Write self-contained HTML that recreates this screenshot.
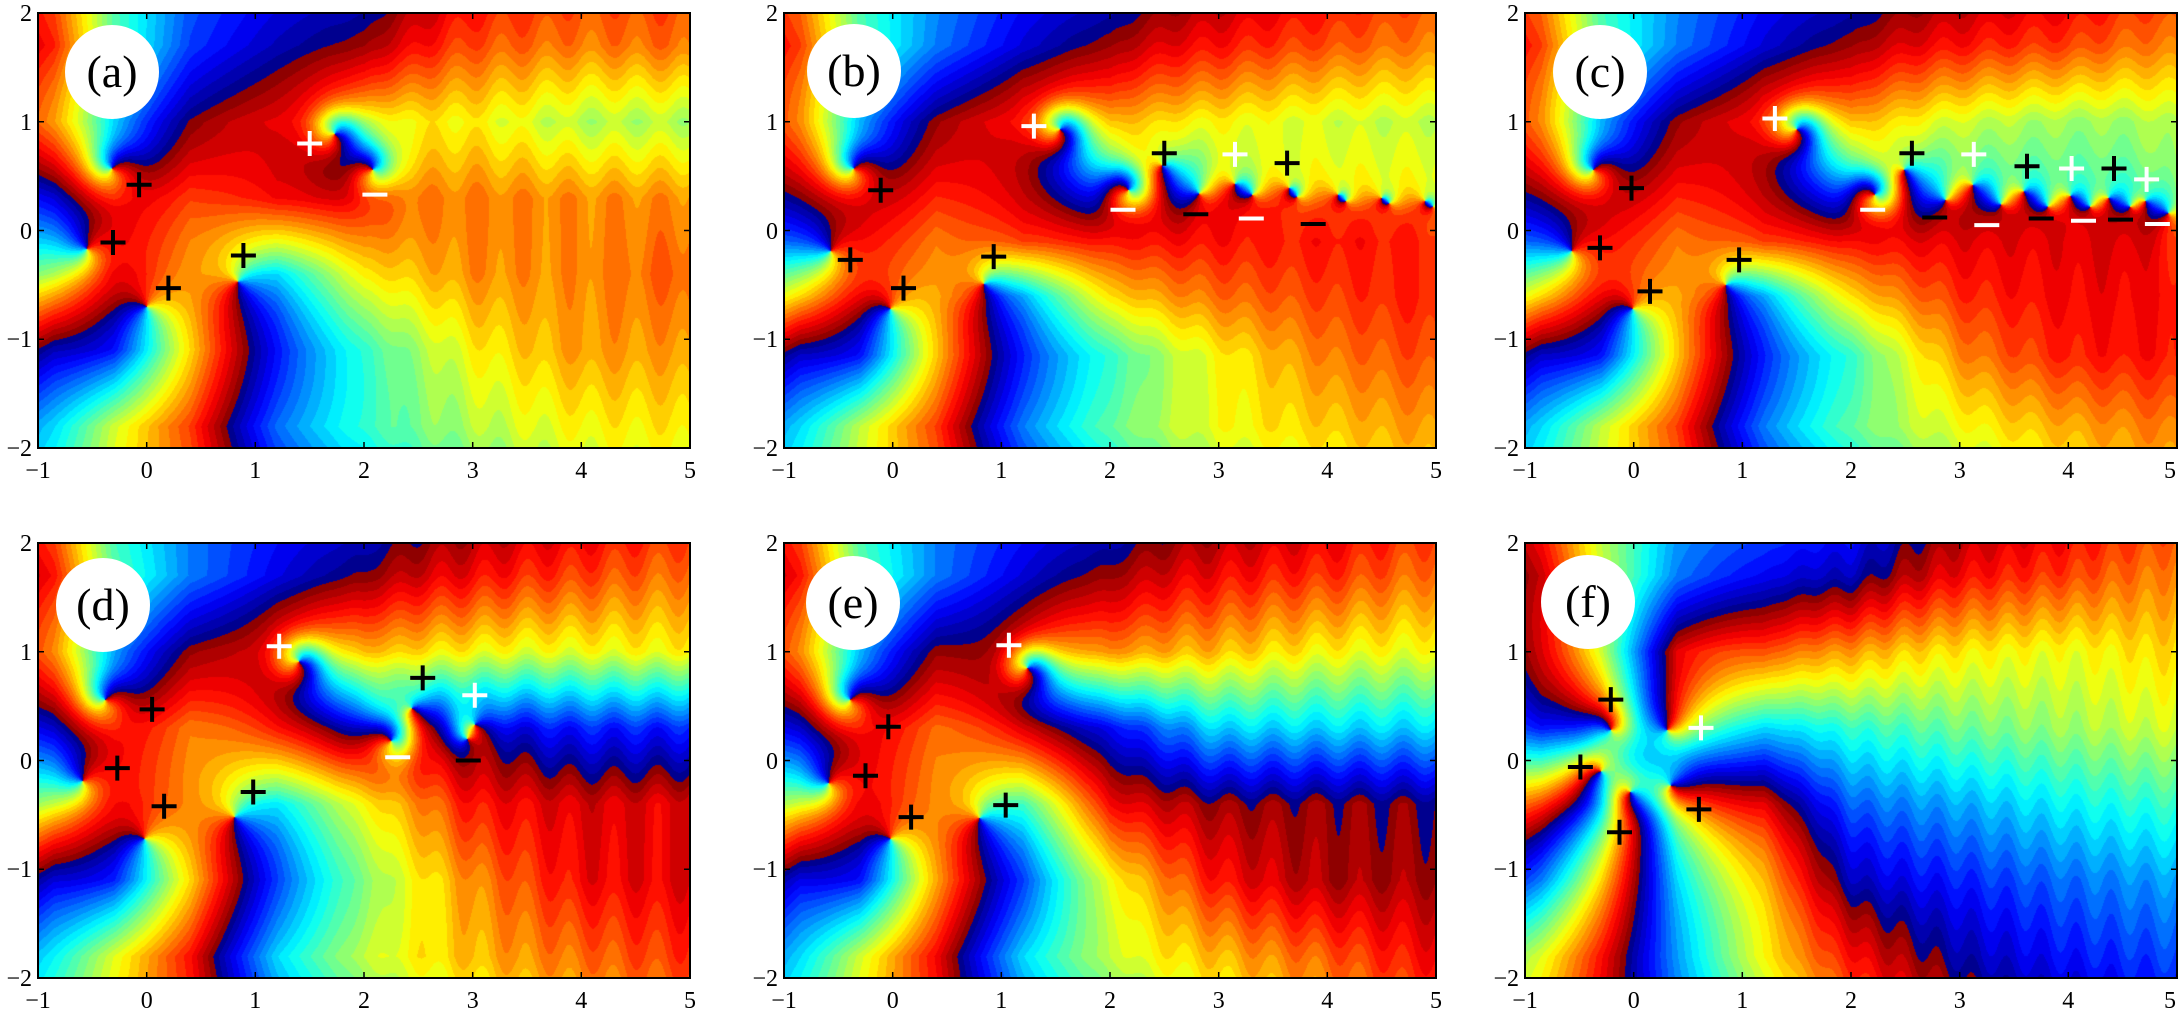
<!DOCTYPE html>
<html><head><meta charset="utf-8">
<style>
html,body{margin:0;padding:0;background:#fff;}
body{width:2183px;height:1019px;position:relative;overflow:hidden;font-family:"Liberation Serif",serif;}
canvas{position:absolute;}
svg.p{position:absolute;overflow:visible;width:652px;height:435px;}
svg text{font-family:"Liberation Serif",serif;font-size:24px;fill:#000;}
svg text.lab{font-size:46px;}
</style></head><body>
<canvas id="c0" width="652" height="435" style="left:38px;top:13px"></canvas>
<canvas id="c1" width="652" height="435" style="left:784px;top:13px"></canvas>
<canvas id="c2" width="652" height="435" style="left:1525px;top:13px"></canvas>
<canvas id="c3" width="652" height="435" style="left:38px;top:543px"></canvas>
<canvas id="c4" width="652" height="435" style="left:784px;top:543px"></canvas>
<canvas id="c5" width="652" height="435" style="left:1525px;top:543px"></canvas>

<svg class="p" style="left:38px;top:13px" viewBox="0 0 652 435">
<rect x="0" y="0" width="652" height="435" fill="none" stroke="#000" stroke-width="2"/>
<path d="M108.7,435v-6M217.3,435v-6M326,435v-6M434.7,435v-6M543.3,435v-6M108.7,0v6M217.3,0v6M326,0v6M434.7,0v6M543.3,0v6M0,108.75h6M0,217.5h6M0,326.25h6M652,108.75h-6M652,217.5h-6M652,326.25h-6" stroke="#000" stroke-width="1.5"/>
<g text-anchor="end"><text x="-6" y="8">2</text><text x="-6" y="117">1</text><text x="-6" y="226">0</text><text x="-6" y="334">−1</text><text x="-6" y="443">−2</text></g>
<g text-anchor="middle"><text x="0" y="465">−1</text><text x="108.7" y="465">0</text><text x="217.3" y="465">1</text><text x="326" y="465">2</text><text x="434.7" y="465">3</text><text x="543.3" y="465">4</text><text x="652" y="465">5</text></g>
<ellipse cx="74" cy="59" rx="47" ry="47" fill="#fff"/><text class="lab" x="74" y="74" text-anchor="middle">(a)</text>
<g stroke="#000" stroke-width="4"><path d="M101.1,171.8m-12.5,0h25m-12.5,-12.5v25"/><path d="M75,229.5m-12.5,0h25m-12.5,-12.5v25"/><path d="M130.4,275.1m-12.5,0h25m-12.5,-12.5v25"/><path d="M205.4,242.5m-12.5,0h25m-12.5,-12.5v25"/></g>
<g stroke="#fff" stroke-width="4"><path d="M271.7,130.5m-12.5,0h25m-12.5,-12.5v25"/><path d="M324.4,181.6h25"/></g>
</svg>

<svg class="p" style="left:784px;top:13px" viewBox="0 0 652 435">
<rect x="0" y="0" width="652" height="435" fill="none" stroke="#000" stroke-width="2"/>
<path d="M108.7,435v-6M217.3,435v-6M326,435v-6M434.7,435v-6M543.3,435v-6M108.7,0v6M217.3,0v6M326,0v6M434.7,0v6M543.3,0v6M0,108.75h6M0,217.5h6M0,326.25h6M652,108.75h-6M652,217.5h-6M652,326.25h-6" stroke="#000" stroke-width="1.5"/>
<g text-anchor="end"><text x="-6" y="8">2</text><text x="-6" y="117">1</text><text x="-6" y="226">0</text><text x="-6" y="334">−1</text><text x="-6" y="443">−2</text></g>
<g text-anchor="middle"><text x="0" y="465">−1</text><text x="108.7" y="465">0</text><text x="217.3" y="465">1</text><text x="326" y="465">2</text><text x="434.7" y="465">3</text><text x="543.3" y="465">4</text><text x="652" y="465">5</text></g>
<ellipse cx="70" cy="58" rx="47" ry="47" fill="#fff"/><text class="lab" x="70" y="73" text-anchor="middle">(b)</text>
<g stroke="#000" stroke-width="4"><path d="M96.7,177.3m-12.5,0h25m-12.5,-12.5v25"/><path d="M66.3,246.9m-12.5,0h25m-12.5,-12.5v25"/><path d="M119.5,275.1m-12.5,0h25m-12.5,-12.5v25"/><path d="M209.7,243.6m-12.5,0h25m-12.5,-12.5v25"/><path d="M380.3,140.3m-12.5,0h25m-12.5,-12.5v25"/><path d="M503.1,150.1m-12.5,0h25m-12.5,-12.5v25"/><path d="M399.3,201.2h25"/><path d="M516.7,211h25"/></g>
<g stroke="#fff" stroke-width="4"><path d="M249.9,113.1m-12.5,0h25m-12.5,-12.5v25"/><path d="M451,141.4m-12.5,0h25m-12.5,-12.5v25"/><path d="M326.5,196.8h25"/><path d="M454.8,205.5h25"/></g>
</svg>

<svg class="p" style="left:1525px;top:13px" viewBox="0 0 652 435">
<rect x="0" y="0" width="652" height="435" fill="none" stroke="#000" stroke-width="2"/>
<path d="M108.7,435v-6M217.3,435v-6M326,435v-6M434.7,435v-6M543.3,435v-6M108.7,0v6M217.3,0v6M326,0v6M434.7,0v6M543.3,0v6M0,108.75h6M0,217.5h6M0,326.25h6M652,108.75h-6M652,217.5h-6M652,326.25h-6" stroke="#000" stroke-width="1.5"/>
<g text-anchor="end"><text x="-6" y="8">2</text><text x="-6" y="117">1</text><text x="-6" y="226">0</text><text x="-6" y="334">−1</text><text x="-6" y="443">−2</text></g>
<g text-anchor="middle"><text x="0" y="465">−1</text><text x="108.7" y="465">0</text><text x="217.3" y="465">1</text><text x="326" y="465">2</text><text x="434.7" y="465">3</text><text x="543.3" y="465">4</text><text x="645" y="465">5</text></g>
<ellipse cx="75" cy="59" rx="47" ry="47" fill="#fff"/><text class="lab" x="75" y="74" text-anchor="middle">(c)</text>
<g stroke="#000" stroke-width="4"><path d="M106.5,175.1m-12.5,0h25m-12.5,-12.5v25"/><path d="M75,234.9m-12.5,0h25m-12.5,-12.5v25"/><path d="M125,278.4m-12.5,0h25m-12.5,-12.5v25"/><path d="M214.1,246.9m-12.5,0h25m-12.5,-12.5v25"/><path d="M386.9,140.3m-12.5,0h25m-12.5,-12.5v25"/><path d="M502,153.3m-12.5,0h25m-12.5,-12.5v25"/><path d="M589,155.5m-12.5,0h25m-12.5,-12.5v25"/><path d="M397.2,204.5h25"/><path d="M503.7,205.5h25"/><path d="M583,206.6h25"/></g>
<g stroke="#fff" stroke-width="4"><path d="M249.9,105.5m-12.5,0h25m-12.5,-12.5v25"/><path d="M448.8,141.4m-12.5,0h25m-12.5,-12.5v25"/><path d="M546.6,155.5m-12.5,0h25m-12.5,-12.5v25"/><path d="M621.6,166.4m-12.5,0h25m-12.5,-12.5v25"/><path d="M335.2,196.8h25"/><path d="M449.3,212.1h25"/><path d="M546,207.7h25"/><path d="M619.9,211h25"/></g>
</svg>

<svg class="p" style="left:38px;top:543px" viewBox="0 0 652 435">
<rect x="0" y="0" width="652" height="435" fill="none" stroke="#000" stroke-width="2"/>
<path d="M108.7,435v-6M217.3,435v-6M326,435v-6M434.7,435v-6M543.3,435v-6M108.7,0v6M217.3,0v6M326,0v6M434.7,0v6M543.3,0v6M0,108.75h6M0,217.5h6M0,326.25h6M652,108.75h-6M652,217.5h-6M652,326.25h-6" stroke="#000" stroke-width="1.5"/>
<g text-anchor="end"><text x="-6" y="8">2</text><text x="-6" y="117">1</text><text x="-6" y="226">0</text><text x="-6" y="334">−1</text><text x="-6" y="443">−2</text></g>
<g text-anchor="middle"><text x="0" y="465">−1</text><text x="108.7" y="465">0</text><text x="217.3" y="465">1</text><text x="326" y="465">2</text><text x="434.7" y="465">3</text><text x="543.3" y="465">4</text><text x="652" y="465">5</text></g>
<ellipse cx="65" cy="62" rx="47" ry="47" fill="#fff"/><text class="lab" x="65" y="77" text-anchor="middle">(d)</text>
<g stroke="#000" stroke-width="4"><path d="M114.1,166.4m-12.5,0h25m-12.5,-12.5v25"/><path d="M79.3,225.1m-12.5,0h25m-12.5,-12.5v25"/><path d="M126.1,263.2m-12.5,0h25m-12.5,-12.5v25"/><path d="M215.2,249m-12.5,0h25m-12.5,-12.5v25"/><path d="M384.7,134.9m-12.5,0h25m-12.5,-12.5v25"/><path d="M417.8,217.5h25"/></g>
<g stroke="#fff" stroke-width="4"><path d="M241.2,103.3m-12.5,0h25m-12.5,-12.5v25"/><path d="M436.8,152.3m-12.5,0h25m-12.5,-12.5v25"/><path d="M347.2,214.2h25"/></g>
</svg>

<svg class="p" style="left:784px;top:543px" viewBox="0 0 652 435">
<rect x="0" y="0" width="652" height="435" fill="none" stroke="#000" stroke-width="2"/>
<path d="M108.7,435v-6M217.3,435v-6M326,435v-6M434.7,435v-6M543.3,435v-6M108.7,0v6M217.3,0v6M326,0v6M434.7,0v6M543.3,0v6M0,108.75h6M0,217.5h6M0,326.25h6M652,108.75h-6M652,217.5h-6M652,326.25h-6" stroke="#000" stroke-width="1.5"/>
<g text-anchor="end"><text x="-6" y="8">2</text><text x="-6" y="117">1</text><text x="-6" y="226">0</text><text x="-6" y="334">−1</text><text x="-6" y="443">−2</text></g>
<g text-anchor="middle"><text x="0" y="465">−1</text><text x="108.7" y="465">0</text><text x="217.3" y="465">1</text><text x="326" y="465">2</text><text x="434.7" y="465">3</text><text x="543.3" y="465">4</text><text x="652" y="465">5</text></g>
<ellipse cx="69" cy="60" rx="47" ry="47" fill="#fff"/><text class="lab" x="69" y="75" text-anchor="middle">(e)</text>
<g stroke="#000" stroke-width="4"><path d="M104.3,183.8m-12.5,0h25m-12.5,-12.5v25"/><path d="M81.5,232.7m-12.5,0h25m-12.5,-12.5v25"/><path d="M127.1,274.1m-12.5,0h25m-12.5,-12.5v25"/><path d="M221.7,262.1m-12.5,0h25m-12.5,-12.5v25"/></g>
<g stroke="#fff" stroke-width="4"><path d="M224.9,102.2m-12.5,0h25m-12.5,-12.5v25"/></g>
</svg>

<svg class="p" style="left:1525px;top:543px" viewBox="0 0 652 435">
<rect x="0" y="0" width="652" height="435" fill="none" stroke="#000" stroke-width="2"/>
<path d="M108.7,435v-6M217.3,435v-6M326,435v-6M434.7,435v-6M543.3,435v-6M108.7,0v6M217.3,0v6M326,0v6M434.7,0v6M543.3,0v6M0,108.75h6M0,217.5h6M0,326.25h6M652,108.75h-6M652,217.5h-6M652,326.25h-6" stroke="#000" stroke-width="1.5"/>
<g text-anchor="end"><text x="-6" y="8">2</text><text x="-6" y="117">1</text><text x="-6" y="226">0</text><text x="-6" y="334">−1</text><text x="-6" y="443">−2</text></g>
<g text-anchor="middle"><text x="0" y="465">−1</text><text x="108.7" y="465">0</text><text x="217.3" y="465">1</text><text x="326" y="465">2</text><text x="434.7" y="465">3</text><text x="543.3" y="465">4</text><text x="645" y="465">5</text></g>
<ellipse cx="63" cy="59" rx="47" ry="47" fill="#fff"/><text class="lab" x="63" y="74" text-anchor="middle">(f)</text>
<g stroke="#000" stroke-width="4"><path d="M85.8,156.6m-12.5,0h25m-12.5,-12.5v25"/><path d="M55.4,224m-12.5,0h25m-12.5,-12.5v25"/><path d="M94.5,289.3m-12.5,0h25m-12.5,-12.5v25"/><path d="M173.9,266.4m-12.5,0h25m-12.5,-12.5v25"/></g>
<g stroke="#fff" stroke-width="4"><path d="M176,184.9m-12.5,0h25m-12.5,-12.5v25"/></g>
</svg>

<script>
(function(){
var PI=Math.PI,TP=2*PI;
function sm(a,b,x){var t=(x-a)/(b-a);t=t<0?0:t>1?1:t;return t*t*(3-2*t);}
function wrap(a){a=(a+PI)%TP;if(a<0)a+=TP;return a-PI;}
function cl(v){return v<0?0:v>1?1:v;}
var W=652,H=435,N=32,n=null;
var XS=[-0.85,-0.3,0.4,1.2,2,3,4,4.8],YS=[1.7,1.0,0.3,-0.4,-1.1,-1.8],YS2=[1.7,1.0,-0.1,-0.6,-1.15,-1.8];
var cfgs=[
 {v:[[-0.32,0.57,1,35],[-0.55,-0.17,1,80],[0.0,-0.70,1,150],[0.84,-0.47,1,-95],[1.73,0.89,1,-45],[2.08,0.56,-1,135]],
  g:[[2.2,n,-2.0,-2.8,3.0,1.9,1.6,1.7],
     [1.4,-1.0,3.1,2.5,0.6,0.8,0.3,0.3],
     [-2.6,2.4,2.0,2.4,2.5,1.6,1.5,1.5],
     [0.3,2.5,1.4,-1.0,0.9,1.5,1.5,1.8],
     [-2.8,-2.3,1.0,-2.3,-0.5,0.8,1.4,1.4],
     [-1.0,0.5,2.0,-1.7,-0.5,0.3,0.8,0.9]],A:0.15,per:0.42,r0:1.5,r1:3},
 {ys:YS2,v:[[-0.36,0.57,1,35],[-0.57,-0.19,1,80],[-0.02,-0.72,1,150],[0.84,-0.49,1,-95],[1.54,0.93,1,-45],[2.17,0.37,-1,135],
     [2.48,0.60,1,n],[2.82,0.34,-1,n],[3.15,0.43,1,n],[3.31,0.33,-1,n],[3.65,0.39,1,n],[3.72,0.31,-1,n],
     [4.1,0.33,1,n],[4.17,0.27,-1,n],[4.5,0.3,1,n],[4.57,0.25,-1,n],[4.9,0.27,1,n],[4.97,0.22,-1,n]],
  g:[[2.0,n,-1.6,-2.6,3.0,2.3,1.9,1.6],
     [1.5,-1.2,3.0,2.3,1.2,0.8,0.5,0.4],
     [-1.8,2.4,1.6,2.0,2.3,2.3,2.3,2.2],
     [1.0,2.4,1.3,-1.3,1.0,1.7,2.0,2.2],
     [-2.7,-2.3,1.1,-2.2,-0.5,0.8,1.6,1.9],
     [-1.0,0.4,2.0,-1.6,-0.2,0.7,1.1,1.4]],A:0.12,per:0.42,r0:1.5,r1:3},
 {ys:YS2,v:[[-0.37,0.56,1,35],[-0.57,-0.19,1,80],[-0.01,-0.72,1,150],[0.85,-0.50,1,-95],[1.50,0.93,1,-45],[2.22,0.33,-1,135],
     [2.49,0.56,1,n],[2.87,0.28,-1,n],[3.12,0.42,1,n],[3.38,0.24,-1,n],[3.59,0.36,1,n],[3.81,0.22,-1,n],
     [4.02,0.32,1,n],[4.20,0.22,-1,n],[4.37,0.30,1,n],[4.57,0.22,-1,n],[4.71,0.27,1,n],[4.92,0.16,-1,n]],
  g:[[2.0,n,-1.6,-2.6,3.0,2.3,2.0,1.6],
     [1.5,-1.2,3.0,2.3,1.2,0.5,0.2,0.3],
     [-1.8,2.4,1.6,2.0,2.4,2.5,2.5,2.5],
     [1.0,2.4,1.3,-1.3,1.0,2.1,2.4,2.4],
     [-2.7,-2.3,1.1,-2.2,-0.5,1.5,2.2,2.3],
     [-1.0,0.4,2.0,-1.6,-0.2,0.7,1.3,1.6]],A:0.12,per:0.42,r0:1.5,r1:3},
 {v:[[-0.38,0.56,1,35],[-0.59,-0.19,1,80],[-0.02,-0.72,1,150],[0.81,-0.52,1,-97],[1.40,0.91,1,-50],[2.25,0.18,-1,130],[2.44,0.48,1,n],[2.95,0.2,-1,n],[3.02,0.33,1,-20]],
  g:[[2.3,n,-1.6,-2.5,3.1,2.4,2.0,1.7],
     [1.5,-1.3,3.0,2.5,1.2,0.8,0.7,0.8],
     [-2.7,2.4,1.6,2.3,-2.3,n,-2.2,-2.2],
     [0.5,2.4,1.5,-0.9,0.8,2.3,2.6,2.5],
     [-2.6,-2.2,1.0,-2.0,0.0,1.5,2.4,2.5],
     [-0.8,0.6,2.3,-1.0,0.4,1.2,1.7,2.0]],A:0.18,per:0.4,r0:1.5,r1:3},
 {v:[[-0.39,0.56,1,35],[-0.59,-0.21,1,80],[-0.02,-0.72,1,150],[0.80,-0.53,1,-105],[1.24,0.85,1,-50]],
  g:[[2.3,n,-1.6,-2.6,3.0,2.4,2.1,1.7],
     [1.5,-1.2,3.0,2.4,1.5,1.2,0.8,0.7],
     [-2.7,2.5,1.7,2.6,-2.4,-1.0,-1.0,-1.0],
     [0.6,2.5,1.5,-0.4,2.4,3.0,3.0,3.1],
     [-2.5,-2.3,1.3,-2.0,0.7,2.3,2.9,2.9],
     [-1.0,0.5,2.4,-1.0,0.4,1.2,1.8,2.3]],A:0.18,per:0.4,r0:1.5,r1:3},
 {v:[[-0.21,0.28,1,110],[-0.30,-0.10,1,200],[-0.03,-0.29,1,-100],[0.31,0.28,1,95],[0.34,-0.23,1,-10]],
  g:[[2.7,n,-1.6,-2.4,-2.8,2.4,2.0,1.6],
     [2.6,0.5,2.5,1.9,1.4,0.9,0.7,1.0],
     [-2.3,-2.8,n,-1.0,-0.5,-0.1,0.2,0.5],
     [2.0,-1.5,0.8,2.5,-1.8,-1.3,-0.8,-0.5],
     [-1.6,1.0,-1.0,1.2,-2.8,-2.2,-1.7,-1.4],
     [0.6,2.3,-1.4,0.8,2.3,-2.9,-2.3,-2.0]],A:0.15,per:0.32,r0:1,r1:2.5}
];
function harm(c,x,y){var re=1,im=0,v=c.v;
 for(var k=0;k<v.length;k++){var q=v[k],dx=x-q[0],dy=y-q[1],m=Math.sqrt(dx*dx+dy*dy)+1e-12;dx/=m;dy/=m;if(q[2]<0)dy=-dy;
  var r2=re*dx-im*dy,i2=re*dy+im*dx;re=r2;im=i2;}
 return Math.atan2(im,re);}
function seg(arr,v,desc){var n=arr.length;
 if(!desc){if(v<=arr[0])return [0,0];if(v>=arr[n-1])return [n-2,1];for(var i=0;i<n-1;i++)if(v<=arr[i+1])return [i,(v-arr[i])/(arr[i+1]-arr[i])];}
 else{if(v>=arr[0])return [0,0];if(v<=arr[n-1])return [n-2,1];for(var i=0;i<n-1;i++)if(v>=arr[i+1])return [i,(arr[i]-v)/(arr[i]-arr[i+1])];}
 return [n-2,1];}
function corr(c,x,y){var sx=seg(XS,x,false),sy=seg(c.ys,y,true),R=c.R,i=sx[0],j=sy[0],u=sx[1],w=sy[1];
 return (R[j][i]*(1-u)+R[j][i+1]*u)*(1-w)+(R[j+1][i]*(1-u)+R[j+1][i+1]*u)*w;}
function field(c,x,y,useB){
 var s=harm(c,x,y)+corr(c,x,y);
 if(useB){var v=c.v;for(var k=0;k<v.length;k++){var q=v[k];if(q.d){var dx=x-q[0],dy=y-q[1];s+=q.d*Math.exp(-(dx*dx+dy*dy)/0.05);}}}
 s+=c.A*Math.sin(TP*x/c.per)*sm(c.r0,c.r1,x);
 return s;
}
for(var p=0;p<6;p++){
 var c=cfgs[p];if(!c.ys)c.ys=YS;var ys=c.ys;var R=[];
 for(var r=0;r<ys.length;r++){R.push([]);for(var q=0;q<XS.length;q++)R[r].push(null);}
 var pts=[];
 for(var r=0;r<ys.length;r++)for(var q=0;q<XS.length;q++){var t=c.g[r][q];if(t===null)continue;
  var res=wrap(t-harm(c,XS[q],ys[r]));
  var best=-1,bd=1e9;for(var m=0;m<pts.length;m++){var dx=pts[m][0]-q,dy=pts[m][1]-r,dd=dx*dx+dy*dy*1.01;if(dd<bd){bd=dd;best=m;}}
  if(best>=0){var ref=R[pts[best][1]][pts[best][0]];res=ref+wrap(res-ref);}
  R[r][q]=res;pts.push([q,r]);}
 for(var r=0;r<ys.length;r++)for(var q=0;q<XS.length;q++){if(R[r][q]!==null)continue;
  var s=0,cnt=0,ref=null;[[0,1],[0,-1],[1,0],[-1,0]].forEach(function(o){var rr=r+o[0],qq=q+o[1];if(rr>=0&&rr<ys.length&&qq>=0&&qq<XS.length&&R[rr][qq]!==null){var v=R[rr][qq];if(ref===null)ref=v;s+=ref+wrap(v-ref);cnt++;}});
  R[r][q]=cnt?s/cnt:0;}
 c.R=R;
 for(var it=0;it<6;it++){
  for(var k=0;k<c.v.length;k++){var qq=c.v[k];if(qq[3]===null||qq[3]===undefined)continue;
   var a=qq[3]*PI/180,px=qq[0]+0.03*Math.cos(a),py=qq[1]+0.03*Math.sin(a);
   var ph=field(c,px,py,true);qq.d=(qq.d||0)+wrap(PI-ph)*0.6;}
 }
 var cv=document.getElementById('c'+p),ctx=cv.getContext('2d'),img=ctx.createImageData(W,H),d=img.data;
 for(var j=0;j<H;j++){var y=2-(j+0.5)/H*4;
  for(var i=0;i<W;i++){var x=-1+(i+0.5)/W*6;
   var ph=wrap(field(c,x,y,true));
   var lv=Math.floor((ph+PI)/TP*N);if(lv>=N)lv=N-1;if(lv<0)lv=0;
   var t=(lv+0.5)/N;
   var o=(j*W+i)*4;
   d[o]=255*cl(1.5-Math.abs(4*t-3));d[o+1]=255*cl(1.5-Math.abs(4*t-2));d[o+2]=255*cl(1.5-Math.abs(4*t-1));d[o+3]=255;
  }}
 ctx.putImageData(img,0,0);
}
})();
</script>
</body></html>
